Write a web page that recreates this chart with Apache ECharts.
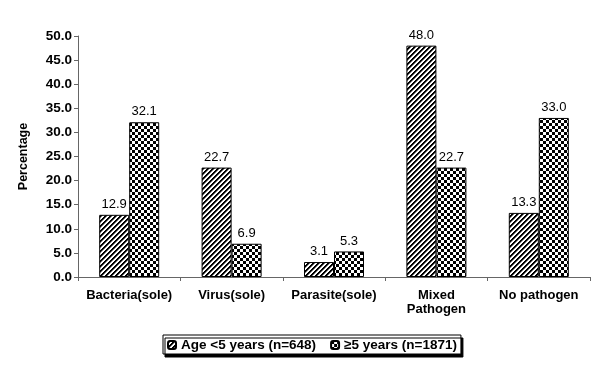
<!DOCTYPE html>
<html>
<head>
<meta charset="utf-8">
<script src="https://cdn.jsdelivr.net/npm/echarts@6/dist/echarts.min.js"></script>
<style>
  html, body { margin: 0; padding: 0; background: #fff; }
  #chart { width: 600px; height: 372px; }
</style>
</head>
<body>
<div id="chart"></div>
<script>
// categories and values
var categories = ['Bacteria(sole)', 'Virus(sole)', 'Parasite(sole)', 'Mixed\nPathogen', 'No pathogen'];
var under5 = [12.9, 22.7, 3.1, 48.0, 13.3];
var over5 = [32.1, 6.9, 5.3, 22.7, 33.0];
var seriesNames = ['Age <5 years (n=648)', '\u22655 years (n=1871)'];

var FONT = '"Liberation Sans", Arial, sans-serif';

// diagonal hatch "/" pattern
function makeHatch() {
  var p = 5;
  var c = document.createElement('canvas');
  c.width = p; c.height = p;
  var ctx = c.getContext('2d');
  ctx.fillStyle = '#fff';
  ctx.fillRect(0, 0, p, p);
  for (var x = 0; x < p; x++) {
    for (var y = 0; y < p; y++) {
      var k = (x + y) % p;
      if (k < 2) {
        ctx.fillStyle = '#000';
        ctx.fillRect(x, y, 1, 1);
      } else if (k === 2) {
        ctx.fillStyle = '#777';
        ctx.fillRect(x, y, 1, 1);
      }
    }
  }
  return c;
}

// checkerboard pattern
function makeChecker() {
  var c = document.createElement('canvas');
  c.width = 6; c.height = 6;
  var ctx = c.getContext('2d');
  ctx.fillStyle = '#fff';
  ctx.fillRect(0, 0, 6, 6);
  ctx.fillStyle = '#000';
  ctx.fillRect(0, 0, 3, 3);
  ctx.fillRect(3, 3, 3, 3);
  return c;
}

var chart = echarts.init(document.getElementById('chart'), null, { renderer: 'canvas' });

var labelStyle = {
  show: true,
  position: 'top',
  distance: 4,
  color: '#000',
  fontFamily: FONT,
  fontSize: 13,
  formatter: function (p) { return p.value.toFixed(1); }
};

var option = {
  animation: false,
  backgroundColor: '#fff',
  grid: {
    left: 78,
    right: 10,
    top: 36,
    bottom: 95
  },
  legend: {
    left: 163,
    top: 335,
    itemWidth: 8,
    itemHeight: 8,
    itemGap: 14,
    padding: [3, 4, 2, 4],
    borderColor: '#000',
    borderWidth: 1,
    backgroundColor: '#fff',
    shadowColor: '#000',
    shadowBlur: 0,
    shadowOffsetX: 2,
    shadowOffsetY: 3,
    textStyle: {
      color: '#000',
      fontFamily: FONT,
      fontWeight: 'bold',
      fontSize: 13.5
    },
    data: seriesNames
  },
  xAxis: {
    type: 'category',
    data: categories,
    axisLine: { lineStyle: { color: '#666', width: 1 } },
    axisTick: { show: true, length: 4, lineStyle: { color: '#666' } },
    axisLabel: {
      color: '#000',
      fontFamily: FONT,
      fontWeight: 'bold',
      fontSize: 13,
      lineHeight: 14,
      margin: 11,
      interval: 0
    }
  },
  yAxis: {
    type: 'value',
    min: 0,
    max: 50,
    interval: 5,
    name: 'Percentage',
    nameLocation: 'middle',
    nameGap: 48,
    nameTextStyle: {
      color: '#000',
      fontFamily: FONT,
      fontWeight: 'bold',
      fontSize: 12.5
    },
    axisLine: { show: true, lineStyle: { color: '#666', width: 1 } },
    axisTick: { show: true, length: 4, lineStyle: { color: '#666' } },
    splitLine: { show: false },
    axisLabel: {
      color: '#000',
      fontFamily: FONT,
      fontWeight: 'bold',
      fontSize: 13.5,
      margin: 6,
      formatter: function (v) { return v.toFixed(1); }
    }
  },
  series: [
    {
      name: seriesNames[0],
      type: 'bar',
      data: under5,
      barWidth: 30,
      barGap: '0%',
      itemStyle: {
        color: { image: makeHatch(), repeat: 'repeat' },
        borderColor: '#000',
        borderWidth: 1
      },
      label: labelStyle
    },
    {
      name: seriesNames[1],
      type: 'bar',
      data: over5,
      barWidth: 30,
      barGap: '0%',
      itemStyle: {
        color: { image: makeChecker(), repeat: 'repeat' },
        borderColor: '#000',
        borderWidth: 1
      },
      label: labelStyle
    }
  ]
};

chart.setOption(option);
</script>
</body>
</html>
